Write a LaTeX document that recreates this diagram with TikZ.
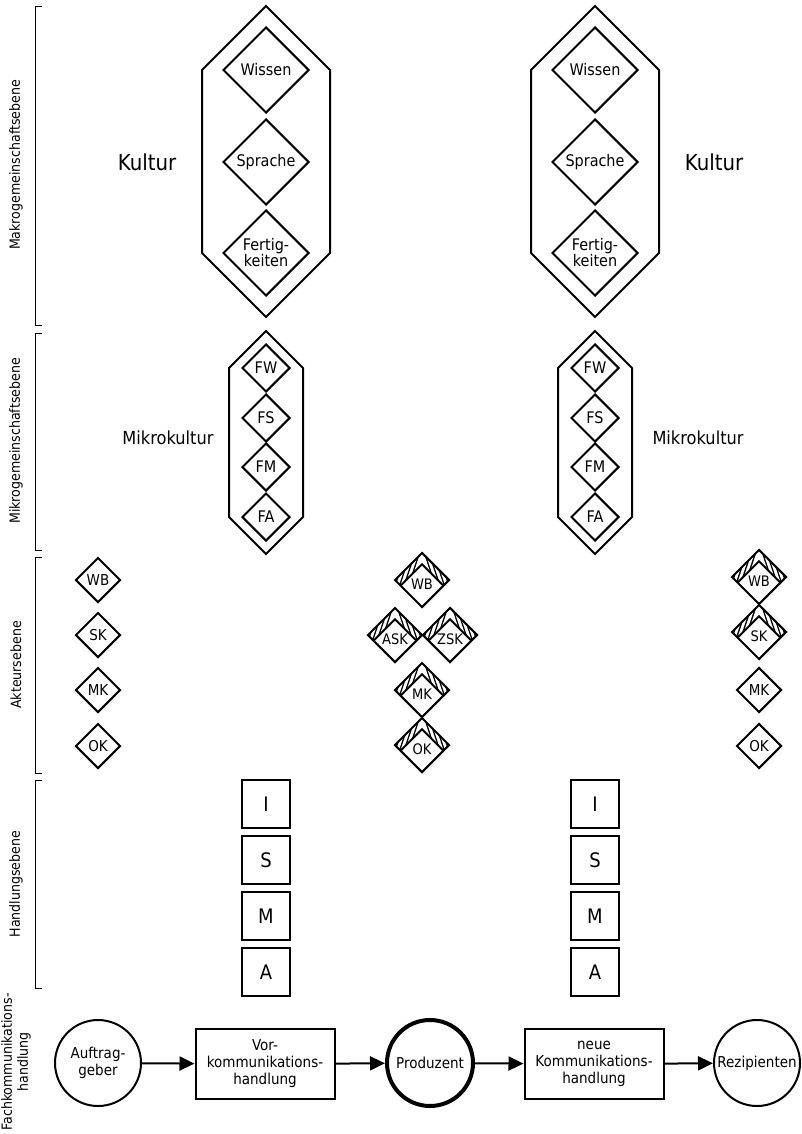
\documentclass[tikz,border=0pt]{standalone}
\usepackage{fontspec}
\setmainfont{DejaVu Sans}[FakeStretch=0.9]
\usetikzlibrary{positioning,shapes.geometric,arrows.meta,calc}

\begin{document}
\begin{tikzpicture}[
    x=1pt, y=-1pt,
    frame/.style={
        draw,
        line width=2pt
    },
    bracket/.style={
        draw,
        line width=1pt
    },
    levellabel/.style={
        rotate=90,
        align=center,
        font=\fontsize{14}{16}\selectfont
    },
    kdia/.style={
        diamond,
        draw,
        line width=2pt,
        aspect=1,
        inner sep=0pt,
        align=center,
        font=\fontsize{16}{16}\selectfont
    },
    bigdia/.style={
        kdia,
        minimum size=86pt
    },
    middia/.style={
        kdia,
        minimum size=48pt
    },
    agdia/.style={
        kdia,
        minimum size=45pt,
        font=\fontsize{15}{15}\selectfont
    },
    hatchdia/.style={
        agdia,
        minimum size=55pt,
        text height=18pt,
        text depth=0pt,
        font=\fontsize{14.5}{15}\selectfont,
        path picture={
            \coordinate (hw) at (path picture bounding box.west);
            \coordinate (he) at (path picture bounding box.east);
            \coordinate (hn) at (path picture bounding box.north);
            \coordinate (hs) at (path picture bounding box.south);
            \draw[line width=2pt] ($(hw)!0.21!(hs)$) -- ($(hn)!0.21!(hs)$) -- ($(he)!0.21!(hs)$);
            \begin{scope}
                \clip (hw) -- (hn) -- ($(hn)!0.21!(hs)$) -- ($(hw)!0.21!(hs)$) -- cycle;
                \foreach \k in {1,...,6}
                    \draw[line width=1.3pt] ([xshift=-\k*4.5pt+2pt]hn) -- ++(-12pt,-36pt);
            \end{scope}
            \begin{scope}
                \clip (he) -- (hn) -- ($(hn)!0.21!(hs)$) -- ($(he)!0.21!(hs)$) -- cycle;
                \foreach \k in {1,...,6}
                    \draw[line width=1.3pt] ([xshift=\k*4.5pt-2pt]hn) -- ++(12pt,-36pt);
            \end{scope}
        }
    },
    handbox/.style={
        rectangle,
        draw,
        line width=2pt,
        minimum size=48pt,
        inner sep=0pt,
        font=\fontsize{20}{20}\selectfont
    },
    actor/.style={
        circle,
        draw,
        line width=2pt,
        minimum size=86pt,
        inner sep=0pt,
        align=center,
        font=\fontsize{15}{17}\selectfont
    },
    process/.style={
        rectangle,
        draw,
        line width=2pt,
        minimum width=139pt,
        minimum height=70pt,
        inner sep=0pt,
        align=center,
        font=\fontsize{15}{17}\selectfont
    },
    arrow/.style={
        -{Triangle[length=15pt,width=14pt]},
        line width=2pt
    }
]

\useasboundingbox (0,0) rectangle (802,1134);

\node[levellabel] (makrolabel) at (16,165) {Makrogemeinschaftsebene};
\node[levellabel] (mikrolabel) at (16,441) {Mikrogemeinschaftsebene};
\node[levellabel] (akteurlabel) at (16,665) {Akteursebene};
\node[levellabel] (handlunglabel) at (16,884) {Handlungsebene};
\node[levellabel] (fachlabel) at (16,1062) {Fachkommunikations-\\handlung};

\draw[bracket] (42,7) -- (35,7) -- (35,325) -- (42,325);
\draw[bracket] (42,333) -- (35,333) -- (35,550) -- (42,550);
\draw[bracket] (42,557) -- (35,557) -- (35,773) -- (42,773);
\draw[bracket] (42,780) -- (35,780) -- (35,988) -- (42,988);

\draw[frame] (266,6) -- (330,70) -- (330,253) -- (266,317) -- (202,253) -- (202,70) -- cycle;
\node[bigdia] (wissenL) at (266,70) {Wissen};
\node[bigdia] (spracheL) at (266,162) {Sprache};
\node[bigdia] (fertigL) at (266,253) {Fertig-\\keiten};
\node[font=\fontsize{22}{24}\selectfont] (kulturL) at (147,162) {Kultur};

\draw[frame] (595,6) -- (659,70) -- (659,253) -- (595,317) -- (531,253) -- (531,70) -- cycle;
\node[bigdia] (wissenR) at (595,70) {Wissen};
\node[bigdia] (spracheR) at (595,162) {Sprache};
\node[bigdia] (fertigR) at (595,253) {Fertig-\\keiten};
\node[font=\fontsize{22}{24}\selectfont] (kulturR) at (714,162) {Kultur};

\draw[frame] (266,331) -- (303,368) -- (303,517) -- (266,554) -- (229,517) -- (229,368) -- cycle;
\node[middia] (fwL) at (266,368) {FW};
\node[middia] (fsL) at (266,418) {FS};
\node[middia] (fmL) at (266,467) {FM};
\node[middia] (faL) at (266,517) {FA};
\node[font=\fontsize{18}{20}\selectfont] (mikroL) at (168,438) {Mikrokultur};

\draw[frame] (595,331) -- (632,368) -- (632,517) -- (595,554) -- (558,517) -- (558,368) -- cycle;
\node[middia] (fwR) at (595,368) {FW};
\node[middia] (fsR) at (595,418) {FS};
\node[middia] (fmR) at (595,467) {FM};
\node[middia] (faR) at (595,517) {FA};
\node[font=\fontsize{18}{20}\selectfont] (mikroR) at (698,438) {Mikrokultur};

\node[agdia] (wbL) at (98,580) {WB};
\node[agdia] (skL) at (98,635) {SK};
\node[agdia] (mkL) at (98,690) {MK};
\node[agdia] (okL) at (98,746) {OK};

\node[hatchdia] (wbM) at (422,580) {WB};
\node[hatchdia] (askM) at (395,635) {ASK};
\node[hatchdia] (zskM) at (450,635) {ZSK};
\node[hatchdia] (mkM) at (422,690) {MK};
\node[hatchdia] (okM) at (422,745) {OK};

\node[hatchdia] (wbR) at (759,577) {WB};
\node[hatchdia] (skR) at (759,632) {SK};
\node[agdia] (mkR) at (759,690) {MK};
\node[agdia] (okR) at (759,746) {OK};

\node[handbox] (iL) at (266,804) {I};
\node[handbox, below=6pt of iL] (sL) {S};
\node[handbox, below=6pt of sL] (mL) {M};
\node[handbox, below=6pt of mL] (aL) {A};

\node[handbox] (iR) at (595,804) {I};
\node[handbox, below=6pt of iR] (sR) {S};
\node[handbox, below=6pt of sR] (mR) {M};
\node[handbox, below=6pt of mR] (aR) {A};

\node[actor] (auftrag) at (98,1063) {Auftrag-\\geber};
\node[process] (vorkomm) at (265,1064) {Vor-\\kommunikations-\\handlung};
\node[actor, line width=4pt] (produzent) at (430,1063) {Produzent};
\node[process] (neukomm) at (594,1064) {neue\\Kommunikations-\\handlung};
\node[actor] (rezip) at (757,1063) {Rezipienten};

\draw[arrow] (auftrag) -- (vorkomm);
\draw[arrow] (vorkomm) -- (produzent);
\draw[arrow] (produzent) -- (neukomm);
\draw[arrow] (neukomm) -- (rezip);

\end{tikzpicture}
\end{document}
